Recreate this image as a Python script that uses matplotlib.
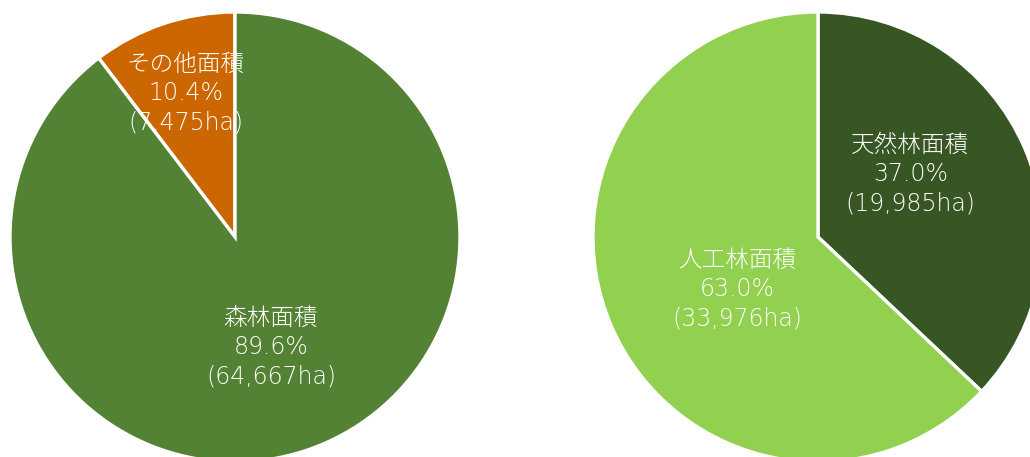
import matplotlib
matplotlib.use("Agg")
import matplotlib.pyplot as plt

# latin glyphs from DejaVu, kana/kanji from Noto CJK
plt.rcParams['font.family'] = ['DejaVu Sans', 'Noto Sans CJK JP']

# 土地の内訳（ha）
land_labels = ['その他面積', '森林面積']
land_area = [7475, 64667]
land_colors = ['#CC6600', '#548235']

# 森林の内訳（ha）
forest_labels = ['天然林面積', '人工林面積']
forest_area = [19985, 33976]
forest_colors = ['#375623', '#92D050']

# label centres (fraction of radius)
land_pos = [(-0.22, 0.64), (0.16, -0.49)]
forest_pos = [(0.41, 0.28), (-0.36, -0.23)]


def draw_pie(ax, labels, values, colors, pos, counterclock):
    ax.pie(values, colors=colors, startangle=90, counterclock=counterclock,
           wedgeprops=dict(edgecolor='white', linewidth=2.4))
    total = sum(values)
    for name, v, (x, y) in zip(labels, values, pos):
        txt = '%s\n%.1f%%\n(%sha)' % (name, v / total * 100, format(v, ','))
        ax.text(x, y, txt, ha='center', va='center', color='white',
                fontsize=17, fontweight='light', linespacing=1.28)
    ax.set_xlim(-1, 1)
    ax.set_ylim(-1, 1)
    ax.set_aspect('equal')
    ax.axis('off')


fig = plt.figure(figsize=(10.30, 4.57), dpi=100)
ax1 = fig.add_axes([10 / 1030, -5 / 457, 450 / 1030, 450 / 457])
ax2 = fig.add_axes([593 / 1030, -5 / 457, 450 / 1030, 450 / 457])

draw_pie(ax1, land_labels, land_area, land_colors, land_pos, True)
draw_pie(ax2, forest_labels, forest_area, forest_colors, forest_pos, False)

fig.savefig('out.png', dpi=100)
